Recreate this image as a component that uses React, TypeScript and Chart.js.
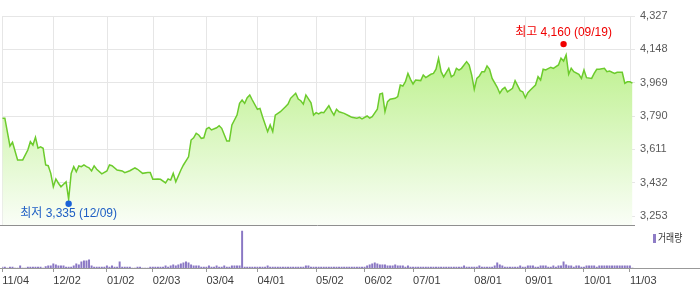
import React, { useEffect, useRef } from 'react';
import { Chart, registerables } from 'chart.js';

Chart.register(...registerables);

// x axis: trading-day index (0 = 2024-11-04)
const tickDays = [0, 20, 41, 59, 80, 100, 123, 142, 161, 185, 205, 228, 246];
const tickLabels = ['11/04', '12/02', '01/02', '02/03', '03/04', '04/01', '05/02', '06/02', '07/01', '08/01', '09/01', '10/01', '11/03'];
const priceTicks = [3253, 3432, 3611, 3790, 3969, 4148, 4327];

const priceDays = [
  0, 1, 3, 4, 6, 8, 10, 11, 12, 13, 14, 15, 16, 17, 18, 19, 20, 21, 22, 23, 25, 26, 27, 28, 29, 30,
  31, 32, 33, 34, 35, 36, 37, 39, 41, 42, 43, 45, 47, 48, 50, 52, 53, 55, 57, 58, 59, 61, 62, 64,
  65, 66, 67, 68, 70, 71, 73, 74, 75, 76, 77, 78, 79, 80, 81, 82, 84, 85, 86, 88, 89, 90, 92, 93,
  94, 95, 96, 97, 98, 100, 101, 102, 104, 105, 106, 107, 109, 111, 112, 113, 115, 116, 117, 118,
  119, 121, 122, 123, 124, 125, 126, 128, 129, 130, 131, 132, 134, 136, 137, 138, 139, 140, 141,
  143, 144, 145, 147, 148, 149, 150, 151, 152, 154, 155, 156, 157, 158, 159, 160, 161, 162, 164,
  165, 166, 168, 169, 170, 171, 172, 173, 174, 175, 176, 177, 178, 179, 180, 182, 183, 184, 185,
  186, 187, 188, 189, 190, 191, 192, 194, 195, 196, 197, 198, 200, 201, 203, 204, 205, 206, 207,
  209, 210, 211, 212, 213, 215, 216, 218, 219, 220, 221, 222, 223, 224, 226, 227, 228, 229, 231,
  232, 233, 234, 236, 237, 238, 239, 240, 241, 243, 244, 245, 246, 247,
];
const priceCloses = [
  3778, 3778, 3629, 3649, 3554, 3554, 3607, 3652, 3634, 3676, 3617, 3624, 3617, 3527, 3523, 3482, 3410, 3452, 3429, 3410, 3437, 3343, 3482, 3518, 3491, 3522,
  3518, 3527, 3518, 3512, 3495, 3522, 3504, 3479, 3495, 3527, 3523, 3500, 3495, 3486, 3496, 3511, 3504, 3482, 3486, 3486, 3450, 3452, 3450, 3431,
  3452, 3446, 3482, 3437, 3500, 3527, 3571, 3661, 3673, 3697, 3688, 3670, 3673, 3720, 3729, 3715, 3727, 3738, 3724, 3656, 3656, 3742, 3795, 3858,
  3876, 3858, 3888, 3903, 3876, 3826, 3831, 3786, 3706, 3742, 3706, 3795, 3813, 3840, 3854, 3885, 3912, 3881, 3872, 3854,
  3903, 3861, 3795, 3808, 3801, 3810, 3808, 3845, 3818, 3795, 3826, 3813, 3804, 3790, 3783, 3781, 3778, 3783, 3774,
  3790, 3779, 3786, 3826, 3908, 3912, 3813, 3867, 3880, 3885, 3894, 3956, 3951, 3974, 4019, 3987, 3962, 3983, 3980,
  4010, 3996, 4014, 4019, 4041, 4100, 4028, 4000, 4023, 4046, 4001, 4010, 4046, 4037, 4046, 4082, 4064, 4010, 3933,
  3992, 4005, 4028, 4028, 4059, 4041, 3992, 3944, 3912, 3933, 3944, 3920, 3939, 3980, 3926, 3920, 3888, 3915, 3930,
  3956, 4001, 3983, 4041, 4037, 4052, 4046, 4064, 4100, 4085, 4118, 4014, 4046, 4028, 4014, 3992, 4037, 3996, 3992,
  4019, 4041, 4041, 4046, 4028, 4032, 4025, 4019, 4025, 4025, 3966, 3974, 3974, 3966,
];

// daily volume (thousand shares), one entry per trading day 0..247
const volumes = [
  10, 10, 0, 10, 10, 0, 0, 20, 0, 0, 10, 10, 10, 10, 10, 10, 0,
  13, 20, 20, 40, 30, 20, 20, 20, 10, 10, 10, 20, 40, 30, 60, 70, 70, 80, 20,
  10, 10, 10, 10, 10, 20, 10, 20, 10, 10, 60, 10, 10, 10, 10, 0, 0, 10, 10, 0, 0, 0, 10, 10, 10, 10, 10, 10, 20,
  10, 20, 30, 20, 30, 40, 50, 60, 50, 30, 20, 20, 20, 10,
  10, 10, 20, 10, 10, 20, 10, 10, 20, 10, 10, 20, 20, 20, 20,
  360,
  10, 10, 10, 10, 10, 10, 10, 10, 10, 20, 10, 10, 10, 10, 10, 10, 10, 10, 10, 10, 10, 10, 10, 10, 20, 20, 10, 10, 10, 10, 10, 10, 10, 10, 10, 10, 10, 10, 10, 10, 10,
  10, 10, 10, 10, 10, 10, 10,
  20, 30, 40, 50, 40, 30, 30, 30,
  20, 20, 20, 30, 20, 20, 20, 10, 20, 10,
  10, 10, 10, 10, 10, 10, 10, 10, 10, 10, 10, 10, 10, 10, 10, 10, 10, 10, 10, 10,
  20,
  10, 10, 10, 10, 10, 20, 10, 10, 10, 10, 10, 20,
  50, 30,
  20, 10, 10, 10, 10, 10, 10, 20, 10, 10, 20, 20, 20, 10, 10, 20, 20, 20, 10, 10, 20, 10, 20, 20,
  60, 30,
  20, 20, 10, 20, 20, 10, 10, 20, 20, 20, 20, 10, 20, 20, 20, 20, 20, 20, 20, 20, 20, 20, 20, 20, 20, 0,
];

const highDay = 220;
const highValue = 4160;
const highLabel = '최고 4,160 (09/19)';
const lowDay = 26;
const lowValue = 3335;
const lowLabel = '최저 3,335 (12/09)';
const volumeLegend = '거래량';

const FONT = "'Liberation Sans', 'Noto Sans CJK KR', sans-serif";
const PRICE_MAX = 4327;
const PRICE_MIN = 3204.7;
const VOL_MAX = 420;

const overlayPlugin = {
  id: 'overlay',
  beforeDatasetsDraw(chart: any) {
    const { ctx, scales } = chart;
    const x = scales.x;
    const y = scales.y;
    ctx.save();
    ctx.strokeStyle = '#e6e6e6';
    ctx.lineWidth = 1;
    for (const d of tickDays) {
      const px = Math.round(x.getPixelForValue(d)) + 0.5;
      ctx.beginPath();
      ctx.moveTo(px, y.top);
      ctx.lineTo(px, y.bottom);
      ctx.stroke();
    }
    ctx.restore();
  },
  afterDatasetsDraw(chart: any) {
    const { ctx, scales } = chart;
    const x = scales.x;
    const y = scales.y;
    const y2 = scales.y2;
    ctx.save();
    // panel separator
    ctx.strokeStyle = '#8f8f8f';
    ctx.lineWidth = 1;
    let py = Math.round(y.bottom) + 0.5;
    ctx.beginPath();
    ctx.moveTo(0, py);
    ctx.lineTo(x.right, py);
    ctx.stroke();
    // bottom axis line
    ctx.strokeStyle = '#999999';
    py = Math.round(y2.bottom) + 0.5;
    ctx.beginPath();
    ctx.moveTo(0, py);
    ctx.lineTo(chart.width, py);
    ctx.stroke();

    // high marker
    const hx = x.getPixelForValue(highDay);
    const hy = y.getPixelForValue(highValue) - 3;
    ctx.fillStyle = '#f00000';
    ctx.beginPath();
    ctx.arc(hx, hy, 3.2, 0, Math.PI * 2);
    ctx.fill();
    ctx.font = '12px ' + FONT;
    ctx.textAlign = 'center';
    ctx.textBaseline = 'middle';
    ctx.fillText(highLabel, hx, hy - 11);

    // low marker
    const lx = x.getPixelForValue(lowDay);
    const ly = y.getPixelForValue(lowValue) + 3;
    ctx.fillStyle = '#1a62d8';
    ctx.beginPath();
    ctx.arc(lx, ly, 3.2, 0, Math.PI * 2);
    ctx.fill();
    ctx.fillStyle = '#1f5fc4';
    ctx.fillText(lowLabel, lx, ly + 10);

    // volume legend
    const ly2 = y2.top + 13;
    ctx.fillStyle = '#8e7cc6';
    ctx.fillRect(653, ly2 - 4, 3, 9);
    ctx.fillStyle = '#333333';
    ctx.font = '11px ' + FONT;
    ctx.textAlign = 'left';
    ctx.translate(658, ly2 + 0.5);
    ctx.scale(0.8, 1);
    ctx.fillText(volumeLegend, 0, 0);
    ctx.restore();
  },
};

export default function App() {
  const ref = useRef<HTMLCanvasElement | null>(null);

  useEffect(() => {
    const canvas = ref.current;
    if (!canvas) return;
    const chart = new Chart(canvas, {
      type: 'line',
      data: {
        datasets: [
          {
            type: 'line',
            label: 'price',
            data: priceDays.map((d, i) => ({ x: d, y: priceCloses[i] })),
            xAxisID: 'x',
            yAxisID: 'y',
            borderColor: '#6ccb2c',
            borderWidth: 1.5,
            pointRadius: 0,
            tension: 0,
            fill: { value: PRICE_MIN },
            backgroundColor: (c: any) => {
              const ch = c.chart;
              const ys = ch.scales && ch.scales.y;
              if (!ch.chartArea || !ys || !Number.isFinite(ys.top) || !Number.isFinite(ys.bottom) || ys.bottom <= ys.top) {
                return 'rgba(200,242,165,0.8)';
              }
              const g = ch.ctx.createLinearGradient(0, ys.top + 30, 0, ys.bottom);
              g.addColorStop(0, 'rgb(186,240,136)');
              g.addColorStop(0.5, 'rgb(218,247,192)');
              g.addColorStop(1, 'rgb(250,254,247)');
              return g;
            },
            order: 1,
          } as any,
          {
            type: 'bar',
            label: volumeLegend,
            data: volumes.map((v, i) => ({ x: i, y: v })),
            xAxisID: 'x',
            yAxisID: 'y2',
            backgroundColor: '#8a77c4',
            barThickness: 1.3,
            order: 2,
          } as any,
        ],
      },
      options: {
        responsive: false,
        maintainAspectRatio: false,
        animation: false,
        layout: { padding: { left: 2.3, top: 16, right: 0, bottom: 0 } },
        plugins: { legend: { display: false }, tooltip: { enabled: false } },
        scales: {
          x: {
            type: 'linear',
            min: 0,
            max: 248,
            offset: false,
            afterBuildTicks: (s: any) => {
              s.ticks = tickDays.map((v) => ({ value: v }));
            },
            afterFit: (s: any) => {
              s.height = 21;
            },
            ticks: {
              autoSkip: false,
              maxRotation: 0,
              minRotation: 0,
              align: 'start',
              padding: 2,
              color: '#3c3c3c',
              font: { size: 11, family: FONT },
              callback: (v: any) => {
                const i = tickDays.indexOf(Number(v));
                return i >= 0 ? tickLabels[i] : '';
              },
            },
            grid: {
              display: true,
              drawOnChartArea: false,
              drawTicks: true,
              tickLength: 4,
              color: '#999999',
              offset: false,
            },
            border: { display: false },
          },
          y: {
            type: 'linear',
            position: 'right',
            stack: 'panels',
            stackWeight: 209,
            min: PRICE_MIN,
            max: PRICE_MAX,
            afterBuildTicks: (s: any) => {
              s.ticks = priceTicks.map((v) => ({ value: v }));
            },
            afterFit: (s: any) => {
              s.width = 65;
            },
            ticks: {
              padding: 5,
              color: '#5a5a5a',
              font: { size: 11, family: FONT },
              callback: (v: any) => Number(v).toLocaleString('en-US'),
            },
            grid: { color: '#e6e6e6', drawTicks: false },
            border: { display: false },
          },
          y2: {
            type: 'linear',
            position: 'right',
            stack: 'panels',
            stackWeight: 43,
            min: 0,
            max: VOL_MAX,
            afterFit: (s: any) => {
              s.width = 65;
            },
            ticks: { display: false },
            grid: { display: false },
            border: { display: false },
          },
        },
      } as any,
      plugins: [overlayPlugin],
    });
    return () => chart.destroy();
  }, []);

  return (
    <div style={{ position: 'absolute', left: 0, top: 0, width: 700, height: 289, background: '#ffffff' }}>
      <canvas ref={ref} width={700} height={289} style={{ display: 'block', width: 700, height: 289 }} />
    </div>
  );
}
